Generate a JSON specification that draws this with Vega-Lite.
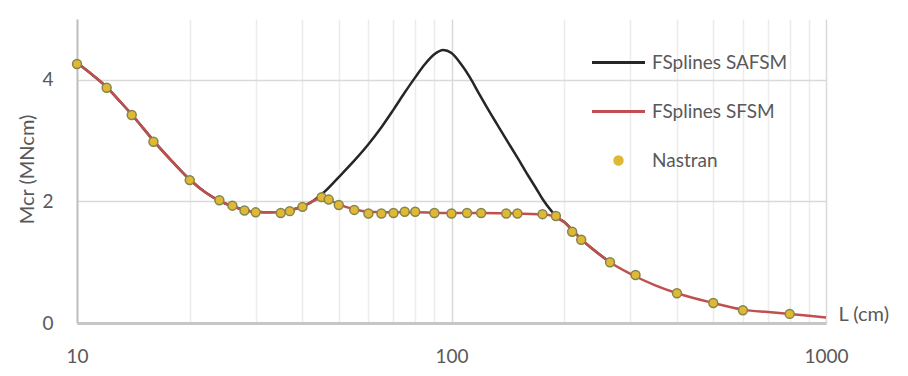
{
  "$schema": "https://vega.github.io/schema/vega-lite/v6.json",
  "width": 749,
  "height": 304,
  "autosize": {"type": "none"},
  "padding": {"left": 77, "top": 19, "right": 82, "bottom": 53},
  "background": "white",
  "config": {
    "view": {"stroke": null},
    "font": "Lato",
    "axis": {"labelFont": "Lato", "titleFont": "Lato", "labelColor": "#595959", "titleColor": "#595959", "titleFontWeight": "normal"},
    "legend": {"labelFont": "Lato", "labelColor": "#595959"}
  },
  "datasets": {
    "safsm": [
      {"L": 10, "Mcr": 4.28, "series": "FSplines SAFSM"},
      {"L": 11, "Mcr": 4.08, "series": "FSplines SAFSM"},
      {"L": 12, "Mcr": 3.88, "series": "FSplines SAFSM"},
      {"L": 13, "Mcr": 3.65, "series": "FSplines SAFSM"},
      {"L": 14, "Mcr": 3.43, "series": "FSplines SAFSM"},
      {"L": 15, "Mcr": 3.21, "series": "FSplines SAFSM"},
      {"L": 16, "Mcr": 3.0, "series": "FSplines SAFSM"},
      {"L": 18, "Mcr": 2.65, "series": "FSplines SAFSM"},
      {"L": 20, "Mcr": 2.36, "series": "FSplines SAFSM"},
      {"L": 22, "Mcr": 2.15, "series": "FSplines SAFSM"},
      {"L": 24, "Mcr": 2.01, "series": "FSplines SAFSM"},
      {"L": 26, "Mcr": 1.92, "series": "FSplines SAFSM"},
      {"L": 28, "Mcr": 1.86, "series": "FSplines SAFSM"},
      {"L": 30, "Mcr": 1.83, "series": "FSplines SAFSM"},
      {"L": 33, "Mcr": 1.82, "series": "FSplines SAFSM"},
      {"L": 36, "Mcr": 1.84, "series": "FSplines SAFSM"},
      {"L": 38, "Mcr": 1.87, "series": "FSplines SAFSM"},
      {"L": 40, "Mcr": 1.92, "series": "FSplines SAFSM"},
      {"L": 42, "Mcr": 1.98, "series": "FSplines SAFSM"},
      {"L": 44, "Mcr": 2.07, "series": "FSplines SAFSM"},
      {"L": 46, "Mcr": 2.17, "series": "FSplines SAFSM"},
      {"L": 50, "Mcr": 2.4, "series": "FSplines SAFSM"},
      {"L": 55, "Mcr": 2.67, "series": "FSplines SAFSM"},
      {"L": 60, "Mcr": 2.94, "series": "FSplines SAFSM"},
      {"L": 65, "Mcr": 3.22, "series": "FSplines SAFSM"},
      {"L": 70, "Mcr": 3.51, "series": "FSplines SAFSM"},
      {"L": 75, "Mcr": 3.79, "series": "FSplines SAFSM"},
      {"L": 80, "Mcr": 4.04, "series": "FSplines SAFSM"},
      {"L": 85, "Mcr": 4.26, "series": "FSplines SAFSM"},
      {"L": 90, "Mcr": 4.42, "series": "FSplines SAFSM"},
      {"L": 95, "Mcr": 4.49, "series": "FSplines SAFSM"},
      {"L": 100, "Mcr": 4.44, "series": "FSplines SAFSM"},
      {"L": 106, "Mcr": 4.26, "series": "FSplines SAFSM"},
      {"L": 112, "Mcr": 4.04, "series": "FSplines SAFSM"},
      {"L": 118, "Mcr": 3.79, "series": "FSplines SAFSM"},
      {"L": 124, "Mcr": 3.56, "series": "FSplines SAFSM"},
      {"L": 132, "Mcr": 3.28, "series": "FSplines SAFSM"},
      {"L": 140, "Mcr": 3.02, "series": "FSplines SAFSM"},
      {"L": 150, "Mcr": 2.72, "series": "FSplines SAFSM"},
      {"L": 160, "Mcr": 2.43, "series": "FSplines SAFSM"},
      {"L": 168, "Mcr": 2.22, "series": "FSplines SAFSM"},
      {"L": 175, "Mcr": 2.04, "series": "FSplines SAFSM"},
      {"L": 185, "Mcr": 1.84, "series": "FSplines SAFSM"},
      {"L": 192, "Mcr": 1.73, "series": "FSplines SAFSM"},
      {"L": 200, "Mcr": 1.66, "series": "FSplines SAFSM"},
      {"L": 210, "Mcr": 1.53, "series": "FSplines SAFSM"},
      {"L": 222, "Mcr": 1.38, "series": "FSplines SAFSM"},
      {"L": 240, "Mcr": 1.2, "series": "FSplines SAFSM"},
      {"L": 265, "Mcr": 1.0, "series": "FSplines SAFSM"}
    ],
    "sfsm": [
      {"L": 10, "Mcr": 4.28, "series": "FSplines SFSM"},
      {"L": 11, "Mcr": 4.08, "series": "FSplines SFSM"},
      {"L": 12, "Mcr": 3.88, "series": "FSplines SFSM"},
      {"L": 13, "Mcr": 3.65, "series": "FSplines SFSM"},
      {"L": 14, "Mcr": 3.43, "series": "FSplines SFSM"},
      {"L": 15, "Mcr": 3.21, "series": "FSplines SFSM"},
      {"L": 16, "Mcr": 3.0, "series": "FSplines SFSM"},
      {"L": 18, "Mcr": 2.65, "series": "FSplines SFSM"},
      {"L": 20, "Mcr": 2.36, "series": "FSplines SFSM"},
      {"L": 22, "Mcr": 2.15, "series": "FSplines SFSM"},
      {"L": 24, "Mcr": 2.01, "series": "FSplines SFSM"},
      {"L": 26, "Mcr": 1.92, "series": "FSplines SFSM"},
      {"L": 28, "Mcr": 1.86, "series": "FSplines SFSM"},
      {"L": 30, "Mcr": 1.83, "series": "FSplines SFSM"},
      {"L": 33, "Mcr": 1.82, "series": "FSplines SFSM"},
      {"L": 36, "Mcr": 1.84, "series": "FSplines SFSM"},
      {"L": 38, "Mcr": 1.87, "series": "FSplines SFSM"},
      {"L": 40, "Mcr": 1.92, "series": "FSplines SFSM"},
      {"L": 42, "Mcr": 1.98, "series": "FSplines SFSM"},
      {"L": 44, "Mcr": 2.04, "series": "FSplines SFSM"},
      {"L": 45.5, "Mcr": 2.05, "series": "FSplines SFSM"},
      {"L": 48, "Mcr": 2.0, "series": "FSplines SFSM"},
      {"L": 50, "Mcr": 1.95, "series": "FSplines SFSM"},
      {"L": 55, "Mcr": 1.87, "series": "FSplines SFSM"},
      {"L": 60, "Mcr": 1.83, "series": "FSplines SFSM"},
      {"L": 70, "Mcr": 1.82, "series": "FSplines SFSM"},
      {"L": 80, "Mcr": 1.82, "series": "FSplines SFSM"},
      {"L": 100, "Mcr": 1.81, "series": "FSplines SFSM"},
      {"L": 120, "Mcr": 1.81, "series": "FSplines SFSM"},
      {"L": 150, "Mcr": 1.8, "series": "FSplines SFSM"},
      {"L": 170, "Mcr": 1.79, "series": "FSplines SFSM"},
      {"L": 180, "Mcr": 1.78, "series": "FSplines SFSM"},
      {"L": 190, "Mcr": 1.74, "series": "FSplines SFSM"},
      {"L": 200, "Mcr": 1.66, "series": "FSplines SFSM"},
      {"L": 210, "Mcr": 1.53, "series": "FSplines SFSM"},
      {"L": 222, "Mcr": 1.38, "series": "FSplines SFSM"},
      {"L": 240, "Mcr": 1.2, "series": "FSplines SFSM"},
      {"L": 265, "Mcr": 1.0, "series": "FSplines SFSM"},
      {"L": 300, "Mcr": 0.81, "series": "FSplines SFSM"},
      {"L": 350, "Mcr": 0.62, "series": "FSplines SFSM"},
      {"L": 400, "Mcr": 0.49, "series": "FSplines SFSM"},
      {"L": 500, "Mcr": 0.33, "series": "FSplines SFSM"},
      {"L": 600, "Mcr": 0.22, "series": "FSplines SFSM"},
      {"L": 700, "Mcr": 0.18, "series": "FSplines SFSM"},
      {"L": 800, "Mcr": 0.15, "series": "FSplines SFSM"},
      {"L": 900, "Mcr": 0.12, "series": "FSplines SFSM"},
      {"L": 1000, "Mcr": 0.09, "series": "FSplines SFSM"}
    ],
    "nastran": [
      {"L": 10, "Mcr": 4.26, "series": "Nastran"},
      {"L": 12, "Mcr": 3.87, "series": "Nastran"},
      {"L": 14, "Mcr": 3.42, "series": "Nastran"},
      {"L": 16, "Mcr": 2.98, "series": "Nastran"},
      {"L": 20, "Mcr": 2.35, "series": "Nastran"},
      {"L": 24, "Mcr": 2.02, "series": "Nastran"},
      {"L": 26, "Mcr": 1.93, "series": "Nastran"},
      {"L": 28, "Mcr": 1.85, "series": "Nastran"},
      {"L": 30, "Mcr": 1.82, "series": "Nastran"},
      {"L": 35, "Mcr": 1.81, "series": "Nastran"},
      {"L": 37, "Mcr": 1.84, "series": "Nastran"},
      {"L": 40, "Mcr": 1.91, "series": "Nastran"},
      {"L": 45, "Mcr": 2.07, "series": "Nastran"},
      {"L": 47, "Mcr": 2.03, "series": "Nastran"},
      {"L": 50, "Mcr": 1.94, "series": "Nastran"},
      {"L": 55, "Mcr": 1.86, "series": "Nastran"},
      {"L": 60, "Mcr": 1.8, "series": "Nastran"},
      {"L": 65, "Mcr": 1.8, "series": "Nastran"},
      {"L": 70, "Mcr": 1.81, "series": "Nastran"},
      {"L": 75, "Mcr": 1.83, "series": "Nastran"},
      {"L": 80, "Mcr": 1.83, "series": "Nastran"},
      {"L": 90, "Mcr": 1.81, "series": "Nastran"},
      {"L": 100, "Mcr": 1.8, "series": "Nastran"},
      {"L": 110, "Mcr": 1.81, "series": "Nastran"},
      {"L": 120, "Mcr": 1.81, "series": "Nastran"},
      {"L": 140, "Mcr": 1.8, "series": "Nastran"},
      {"L": 150, "Mcr": 1.8, "series": "Nastran"},
      {"L": 175, "Mcr": 1.79, "series": "Nastran"},
      {"L": 190, "Mcr": 1.76, "series": "Nastran"},
      {"L": 210, "Mcr": 1.5, "series": "Nastran"},
      {"L": 222, "Mcr": 1.37, "series": "Nastran"},
      {"L": 265, "Mcr": 1.0, "series": "Nastran"},
      {"L": 310, "Mcr": 0.79, "series": "Nastran"},
      {"L": 400, "Mcr": 0.49, "series": "Nastran"},
      {"L": 500, "Mcr": 0.33, "series": "Nastran"},
      {"L": 600, "Mcr": 0.21, "series": "Nastran"},
      {"L": 800, "Mcr": 0.15, "series": "Nastran"}
    ]
  },
  "encoding": {
    "x": {
      "field": "L", "type": "quantitative",
      "scale": {"type": "log", "domain": [10, 1000], "nice": false},
      "axis": {
        "title": "L (cm)",
        "values": [10, 20, 30, 40, 50, 60, 70, 80, 90, 100, 200, 300, 400, 500, 600, 700, 800, 900, 1000],
        "labelExpr": "datum.value == 10 || datum.value == 100 || datum.value == 1000 ? datum.value : ''",
        "labelFlush": false,
        "labelOverlap": false,
        "labelFontSize": 19,
        "labelPadding": 24,
        "labelBaseline": "top",
        "ticks": false,
        "grid": true,
        "gridColor": {"condition": {"test": "datum.value == 100 || datum.value == 1000", "value": "#d9d9d9"}, "value": "#ececec"},
        "gridWidth": 1.5,
        "domainColor": "#c6c6c6",
        "domainWidth": 3,
        "titleFontSize": 20,
        "titleAlign": "left",
        "titleBaseline": "middle",
        "titleX": 761,
        "titleY": -9,
        "titleAngle": 0
      }
    },
    "y": {
      "field": "Mcr", "type": "quantitative",
      "scale": {"domain": [0, 5], "nice": false},
      "axis": {
        "title": "Mcr (MNcm)",
        "values": [0, 2, 4],
        "labelFontSize": 19,
        "labelPadding": 24,
        "ticks": false,
        "grid": true,
        "gridColor": "#d9d9d9",
        "gridWidth": 1.5,
        "domainColor": "#bfbfbf",
        "domainWidth": 2,
        "titleFontSize": 20,
        "titleX": -50,
        "titleY": 150,
        "titleAngle": -90,
        "titleAlign": "center",
        "titleBaseline": "middle"
      }
    },
    "color": {
      "field": "series", "type": "nominal",
      "scale": {"domain": ["FSplines SAFSM", "FSplines SFSM", "Nastran"], "range": ["#262626", "#c0504d", "#dfb834"]},
      "legend": {
        "title": null,
        "orient": "none",
        "legendX": 532,
        "legendY": 34,
        "padding": 0,
        "symbolSize": 449,
        "labelOffset": 24,
        "labelFontSize": 19,
        "rowPadding": 29,
        "encode": {
          "symbols": {
            "update": {
              "shape": {"signal": "datum.value === 'Nastran' ? 'circle' : 'stroke'"},
              "size": {"signal": "datum.value === 'Nastran' ? 80 : 2809"},
              "stroke": {"signal": "datum.value === 'FSplines SAFSM' ? '#262626' : datum.value === 'FSplines SFSM' ? '#c0504d' : '#85844f'"},
              "fill": {"signal": "datum.value === 'Nastran' ? '#dfb834' : 'transparent'"},
              "strokeWidth": {"signal": "datum.value === 'Nastran' ? 1.5 : 3"},
              "opacity": {"value": 1}
            }
          }
        }
      }
    }
  },
  "layer": [
    {"data": {"name": "safsm"}, "mark": {"type": "line", "strokeWidth": 2.5, "interpolate": "monotone"}},
    {"data": {"name": "sfsm"}, "mark": {"type": "line", "strokeWidth": 2.5, "interpolate": "monotone"}},
    {"data": {"name": "nastran"}, "mark": {"type": "point", "filled": true, "size": 80, "stroke": "#85844f", "strokeWidth": 1.5, "opacity": 1}}
  ]
}
